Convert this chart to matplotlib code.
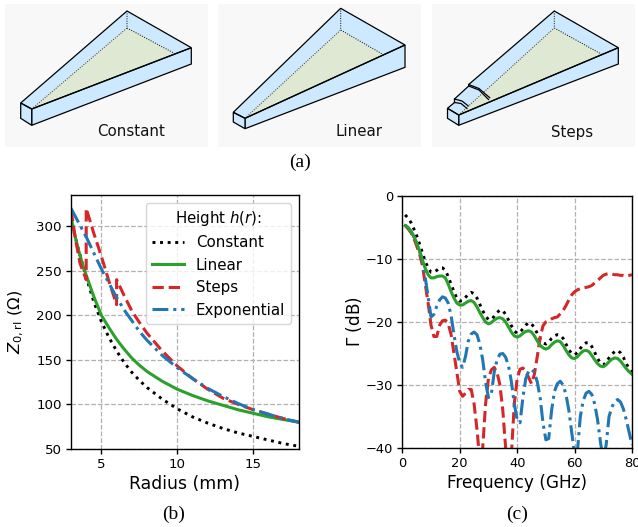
import matplotlib
matplotlib.use("Agg")
import matplotlib.pyplot as plt
from matplotlib.patches import Polygon, Rectangle

W, H = 638, 527

# panel (b): impedance along the radius
radius_const = [3, 3.25, 3.5, 3.75, 4, 4.5, 5, 5.5, 6, 6.5, 7, 7.5, 8, 9, 10, 11, 12, 13, 14, 15, 16, 17, 18]
z_const = [310, 290, 273, 258, 243, 215, 193, 175, 160, 147, 136, 127, 119, 106, 95, 86, 79, 73, 68, 64, 60, 56, 53]

radius_linear = [3, 3.25, 3.5, 3.75, 4, 4.5, 5, 5.5, 6, 6.5, 7, 7.5, 8, 9, 10, 11, 12, 13, 14, 15, 16, 17, 18]
z_linear = [310, 290, 273, 258, 245, 221, 200, 186, 173, 162, 152, 144, 137, 126, 117, 110, 104, 99, 94, 90, 86, 83, 80]

radius_steps = [3, 3.3, 3.6, 4, 4, 4.5, 5, 5.5, 6, 6, 6.5, 7, 7.5, 8, 9, 10, 11, 12, 13, 14, 15, 16, 17, 18]
z_steps = [318, 285, 258, 240, 320, 292, 266, 238, 212, 240, 222, 205, 192, 180, 160, 143, 129, 117, 107, 100, 94, 89, 84, 80]

radius_exp = [3, 3.5, 4, 4.5, 5, 5.5, 6, 6.5, 7, 7.5, 8, 9, 10, 11, 12, 13, 14, 15, 16, 17, 18]
z_exp = [320, 304, 288, 270, 252, 236, 220, 206, 194, 182, 172, 155, 141, 129, 118, 109, 101, 94, 89, 84, 80]

# panel (c): reflection against frequency, 1 to 80 GHz
freq = list(range(1, 81))
gamma_const = [-3.0, -3.5, -4.2, -5.2, -6.3, -7.6, -9.0, -10.4, -11.4, -12.1, -12.1, -11.8, -11.4, -11.4, -11.8, -12.8, -14.0, -15.2, -16.2, -16.7,
               -16.6, -16.1, -15.6, -15.3, -15.5, -16.2, -17.2, -18.2, -19.1, -19.6, -19.6, -19.1, -18.5, -18.1, -18.2, -18.8, -19.7, -20.6, -21.4, -21.8,
               -21.6, -21.1, -20.5, -20.1, -20.3, -20.9, -21.8, -22.7, -23.3, -23.5, -23.2, -22.6, -22.2, -22.0, -22.1, -22.6, -23.5, -24.4, -25.0, -25.2,
               -24.9, -24.2, -23.6, -23.3, -23.3, -23.9, -24.8, -25.8, -26.5, -26.8, -26.4, -25.7, -25.1, -24.7, -24.5, -24.9, -25.6, -26.6, -27.4, -28.0]
gamma_linear = [-4.7, -5.0, -5.6, -6.4, -7.4, -8.7, -10.2, -11.5, -12.5, -13.0, -13.0, -12.8, -12.7, -12.7, -13.0, -14.0, -15.2, -16.2, -17.0, -17.3,
                -17.3, -17.0, -16.7, -16.6, -16.9, -17.6, -18.5, -19.3, -20.0, -20.3, -20.1, -19.7, -19.4, -19.3, -19.5, -20.0, -20.8, -21.6, -22.2, -22.4,
                -22.2, -21.8, -21.5, -21.4, -21.6, -22.2, -23.0, -23.7, -24.1, -24.3, -24.1, -23.6, -23.2, -23.0, -23.1, -23.7, -24.5, -25.2, -25.7, -25.8,
                -25.5, -25.0, -24.6, -24.5, -24.7, -25.3, -26.0, -26.6, -27.0, -27.1, -26.8, -26.3, -25.9, -25.7, -25.8, -26.2, -26.8, -27.4, -27.9, -28.3]
gamma_steps = [-4.7, -5.2, -5.8, -6.7, -7.9, -9.2, -11.0, -14.0, -17.0, -20.5, -22.3, -22.3, -20.5, -19.8, -19.7, -20.3, -22.0, -25.0, -28.0, -31.0,
               -31.8, -31.3, -30.7, -30.7, -33.0, -37.0, -42.0, -40.0, -33.0, -29.0, -27.6, -27.2, -28.0, -30.0, -34.0, -40.0, -45.0, -41.0, -33.0, -29.0,
               -27.5, -27.3, -27.8, -28.8, -29.8, -28.3, -25.5, -22.5, -20.6, -20.0, -19.8, -19.5, -19.3, -19.2, -18.7, -18.2, -17.4, -16.5, -15.7, -15.2,
               -14.9, -14.7, -14.6, -14.5, -14.4, -14.2, -13.8, -13.4, -13.0, -12.6, -12.4, -12.3, -12.4, -12.5, -12.5, -12.6, -12.6, -12.7, -12.6, -12.5]
gamma_exp = [-4.6, -5.0, -5.6, -6.4, -7.4, -8.7, -10.2, -13.0, -16.0, -19.2, -18.8, -17.5, -16.5, -16.0, -16.2, -17.0, -19.0, -22.0, -24.7, -26.5,
             -27.2, -25.5, -23.0, -21.9, -21.6, -22.0, -23.5, -26.0, -29.5, -32.0, -31.5, -28.0, -26.0, -25.1, -25.0, -25.6, -27.0, -29.5, -33.0, -35.5,
             -36.0, -32.0, -29.0, -27.8, -27.5, -28.0, -29.5, -32.0, -36.0, -38.7, -38.5, -34.0, -31.0, -29.8, -29.4, -30.0, -31.5, -34.0, -37.5, -41.0,
             -40.5, -35.0, -32.5, -31.3, -31.0, -31.5, -33.0, -35.5, -39.0, -42.0, -39.5, -35.0, -33.5, -32.6, -32.3, -32.7, -33.8, -35.5, -37.5, -39.5]

# wedge sketches in panel (a), outline points in pixels of the figure
panel_boxes = [(5, 4, 203, 143), (218, 4, 203, 143), (432, 4, 203, 143)]
panel_names = ["Constant", "Linear", "Steps"]
name_x = [131, 359, 572]

const_left = [(20.7, 103), (31.7, 109), (31.7, 125.3), (20.7, 118.3)]
const_top = [(20.7, 103), (127, 11), (191.3, 47.7), (31.7, 109)]
const_side = [(31.7, 109), (191.3, 47.7), (191.3, 64), (31.7, 125.3)]
const_green = [(31.7, 109), (127, 28), (174.3, 53.3)]
const_hidden = [(127, 11), (127, 28), (174.3, 53.3)]

linear_left = [(233.3, 112.3), (245, 118.3), (245, 128.7), (233.3, 122)]
linear_top = [(233.3, 112.3), (340.7, 8.3), (405, 45), (245, 118.3)]
linear_side = [(245, 118.3), (405, 45), (405, 67.3), (245, 128.7)]
linear_green = [(245, 118.3), (340.7, 30), (382.7, 54.3)]
linear_hidden = [(340.7, 8.3), (340.7, 30), (382.7, 54.3)]

steps_left = [(447.5, 108.3), (458.7, 115), (458.7, 125.3), (447.5, 118.3)]
steps_top = [(447.5, 108.3), (454.5, 102.5), (454.5, 99), (468.7, 86), (468.7, 84.5), (554.3, 11), (618.3, 47.7), (458.7, 115)]
steps_side = [(458.7, 115), (618.3, 47.7), (618.3, 64), (458.7, 125.3)]
steps_green = [(458.7, 115), (554.3, 28), (601.7, 54.3)]
steps_hidden = [(554.3, 11), (554.3, 28), (601.7, 54.3)]
steps_bands = [[(454.5, 99), (462, 101), (468, 105.7)], [(468.7, 84.5), (479, 88.5), (489.7, 97.7)]]
steps_risers = [[(454.5, 102.5), (461, 103.5), (467, 108.5)], [(468.7, 86), (479, 90), (488.5, 99.5)]]

BLUE = "#cce9ff"
GREEN = "#dfe8d2"
DOTTED = (0, (1, 1.6))
DASH_DOT = (0, (5.2, 1.6, 1, 1.6))


def pixel_axes(fig, left, top, right, bottom):
    return fig.add_axes([left / W, 1 - bottom / H, (right - left) / W, (bottom - top) / H])


def draw_wedge(ax, left, top, side, green, hidden):
    ax.add_patch(Polygon(top, closed=True, fc=BLUE, ec="none"))
    ax.add_patch(Polygon(green, closed=True, fc=GREEN, ec="none"))
    ax.add_patch(Polygon(side, closed=True, fc=BLUE, ec="black", lw=0.9))
    ax.add_patch(Polygon(left, closed=True, fc=BLUE, ec="black", lw=0.9))
    ax.add_patch(Polygon(top, closed=True, fc="none", ec="black", lw=0.9))
    ax.plot([p[0] for p in hidden], [p[1] for p in hidden], color="black", lw=0.7, ls=(0, (1, 1.5)))
    ax.plot([green[0][0], green[1][0]], [green[0][1], green[1][1]], color="#333333", lw=0.7, ls=(0, (1, 1.5)))


def style_axes(ax, tick_size):
    ax.grid(True, color="#b0b0b0", ls="--", lw=0.9)
    ax.set_axisbelow(True)
    ax.tick_params(labelsize=tick_size, length=3.5, width=1.0, pad=3)
    for s in ax.spines.values():
        s.set_linewidth(1.0)


def main():
    fig = plt.figure(figsize=(W / 100, H / 100), dpi=100)

    sketch = fig.add_axes([0, 0, 1, 1])
    sketch.set_xlim(0, W)
    sketch.set_ylim(H, 0)
    sketch.axis("off")

    for box, name, nx in zip(panel_boxes, panel_names, name_x):
        sketch.add_patch(Rectangle(box[:2], box[2], box[3], fc="#f8f8f8", ec="none"))
        sketch.text(nx, 132, name, fontsize=10.8, ha="center", va="center", color="#111111")

    draw_wedge(sketch, const_left, const_top, const_side, const_green, const_hidden)
    draw_wedge(sketch, linear_left, linear_top, linear_side, linear_green, linear_hidden)
    draw_wedge(sketch, steps_left, steps_top, steps_side, steps_green, steps_hidden)
    for band in steps_bands + steps_risers:
        sketch.plot([p[0] for p in band], [p[1] for p in band], color="black", lw=0.9)

    for x, y, cap in [(300, 162, "(a)"), (173.5, 514, "(b)"), (517, 514, "(c)")]:
        sketch.text(x, y, cap, family="Liberation Serif", fontsize=14, ha="center", va="center")

    # panel (b)
    ax = pixel_axes(fig, 71, 195, 299, 449)
    ax.plot(radius_const, z_const, color="black", ls=DOTTED, lw=2.1, label="Constant")
    ax.plot(radius_linear, z_linear, color="#2ca02c", lw=2.2, label="Linear")
    ax.plot(radius_steps, z_steps, color="#d62728", ls="--", lw=2.2, label="Steps")
    ax.plot(radius_exp, z_exp, color="#1f77b4", ls=DASH_DOT, lw=2.2, label="Exponential")
    ax.set_xlim(3, 18)
    ax.set_ylim(50, 335)
    ax.set_xticks([5, 10, 15])
    ax.set_yticks([50, 100, 150, 200, 250, 300])
    ax.set_xlabel("Radius (mm)", fontsize=12.4, labelpad=3)
    ax.set_ylabel(r"$Z_{0,\mathrm{rl}}$ ($\Omega$)", fontsize=11.8)
    ax.yaxis.set_label_coords((26 - 71) / 228, 0.5)
    style_axes(ax, 9.6)
    ax.legend(title="Height $h(r)$:", fontsize=10.8, title_fontsize=10.8, loc="upper right",
              bbox_to_anchor=(0.965, 0.97), borderaxespad=0, labelspacing=0.5, handlelength=2.1)

    # panel (c)
    ax2 = pixel_axes(fig, 402.3, 196, 632, 448)
    ax2.plot(freq, gamma_const, color="black", ls=DOTTED, lw=2.1)
    ax2.plot(freq, gamma_steps, color="#d62728", ls="--", lw=2.2)
    ax2.plot(freq, gamma_exp, color="#1f77b4", ls=DASH_DOT, lw=2.2)
    ax2.plot(freq, gamma_linear, color="#2ca02c", lw=2.2)
    ax2.set_xlim(0, 80)
    ax2.set_ylim(-40, 0)
    ax2.set_xticks([0, 20, 40, 60, 80])
    ax2.set_yticks([-40, -30, -20, -10, 0])
    ax2.set_xlabel("Frequency (GHz)", fontsize=12.2, labelpad=3)
    ax2.set_ylabel(r"$\Gamma$ (dB)", fontsize=12.2)
    ax2.yaxis.set_label_coords((364 - 402.3) / 229.7, 0.5)
    style_axes(ax2, 9.4)

    fig.savefig("out.png", dpi=100)


if __name__ == "__main__":
    main()
